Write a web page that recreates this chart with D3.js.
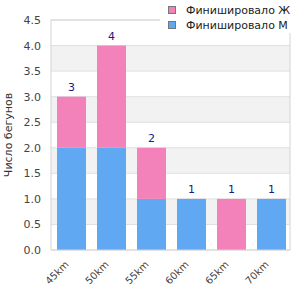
<!DOCTYPE html>
<html>
<head>
<meta charset="utf-8">
<script src="https://cdn.jsdelivr.net/npm/d3@7"></script>
<style>
  body { margin: 0; background: #fff; }
  text { font-family: "DejaVu Sans", sans-serif; }
</style>
</head>
<body>
<div id="chart"></div>
<script>
const categories = ["45km", "50km", "55km", "60km", "65km", "70km"];
const finishedM = [2, 2, 1, 1, 0, 1];
const finishedF = [1, 2, 1, 0, 1, 0];
const yTicks = [0, 0.5, 1, 1.5, 2, 2.5, 3, 3.5, 4, 4.5];

const margin = { top: 20, right: 10, bottom: 50, left: 51 };
const width = 300 - margin.left - margin.right;
const height = 300 - margin.top - margin.bottom;

const blue = "#60a8f2";
const pink = "#f282b9";

const data = categories.map((c, i) => ({ cat: c, m: finishedM[i], f: finishedF[i] }));
const stack = d3.stack().keys(["m", "f"])(data);

const xScale = d3.scaleBand().domain(categories).range([0.5, 240.5]).paddingInner(0.275).paddingOuter(0.1375);
const yScale = d3.scaleLinear().domain([0, 4.5]).range([height, 0]);
const colorScale = d3.scaleOrdinal().domain(["m", "f"]).range([blue, pink]);

const svg = d3.select("#chart").append("svg")
  .attr("width", 300).attr("height", 300)
  .append("g")
  .attr("transform", `translate(${margin.left}, ${margin.top})`);

// alternating stripes
const bands = d3.range(0, 4.5, 0.5);
svg.selectAll("rect.stripe")
  .data(bands.filter((d, i) => i % 2 === 1))
  .enter().append("rect")
  .attr("x", 0).attr("width", width)
  .attr("y", d => yScale(d + 0.5))
  .attr("height", d => yScale(d) - yScale(d + 0.5))
  .attr("fill", "#f2f2f2");

// gridlines
svg.selectAll("line.grid")
  .data(yTicks)
  .enter().append("line")
  .attr("x1", 0).attr("x2", width)
  .attr("y1", d => yScale(d)).attr("y2", d => yScale(d))
  .attr("stroke", "#e0e0e0");

// bars
svg.selectAll("g.layer")
  .data(stack)
  .enter().append("g")
  .attr("fill", d => colorScale(d.key))
  .selectAll("rect")
  .data(d => d)
  .enter().append("rect")
  .attr("x", d => xScale(d.data.cat))
  .attr("width", xScale.bandwidth())
  .attr("y", d => yScale(d[1]))
  .attr("height", d => yScale(d[0]) - yScale(d[1]));

// totals
svg.selectAll("text.total")
  .data(data)
  .enter().append("text")
  .attr("x", d => xScale(d.cat) + xScale.bandwidth() / 2)
  .attr("y", d => yScale(d.m + d.f) - 6)
  .attr("text-anchor", "middle")
  .style("font-size", "11px")
  .attr("fill", "#1a1a80")
  .text(d => d.m + d.f);

// frame
svg.append("rect")
  .attr("x", 0).attr("y", 0).attr("width", width).attr("height", height)
  .attr("fill", "none").attr("stroke", "#d4d4d4");

// y axis
const yAxis = svg.append("g")
  .call(d3.axisLeft(yScale).tickValues(yTicks).tickFormat(d3.format(".1f")).tickSize(0).tickPadding(10));
yAxis.select(".domain").remove();
yAxis.selectAll("text").style("font-size", "11px").attr("fill", "#444").style("font-family", "DejaVu Sans");

// x axis
const xAxis = svg.append("g")
  .attr("transform", `translate(0, ${height})`)
  .call(d3.axisBottom(xScale).tickSize(0));
xAxis.select(".domain").remove();
xAxis.selectAll("text")
  .style("font-size", "10px").attr("fill", "#444").style("font-family", "DejaVu Sans")
  .attr("text-anchor", "end")
  .attr("dy", 0).attr("y", 0)
  .attr("transform", "translate(-2, 15) rotate(-45)");

// y title
svg.append("text")
  .attr("transform", "rotate(-90)")
  .attr("x", -height / 2)
  .attr("y", -margin.left + 12)
  .attr("text-anchor", "middle")
  .style("font-size", "11px")
  .attr("fill", "#333")
  .text("Число бегунов");

// legend
const legend = d3.select("svg").append("g").attr("transform", "translate(160, 0)");
legend.append("rect").attr("x", 0).attr("y", 0).attr("width", 140).attr("height", 33).attr("fill", "#fff");
const legendItems = [["Финишировало Ж", pink], ["Финишировало М", blue]];
legendItems.forEach(([label, color], i) => {
  legend.append("rect")
    .attr("x", 8.5).attr("y", 6.5 + i * 15).attr("width", 7).attr("height", 7)
    .attr("fill", color).attr("stroke", "#777");
  legend.append("text")
    .attr("x", 26).attr("y", 14 + i * 15)
    .style("font-size", "11px").attr("fill", "#222")
    .text(label);
});
</script>
</body>
</html>
